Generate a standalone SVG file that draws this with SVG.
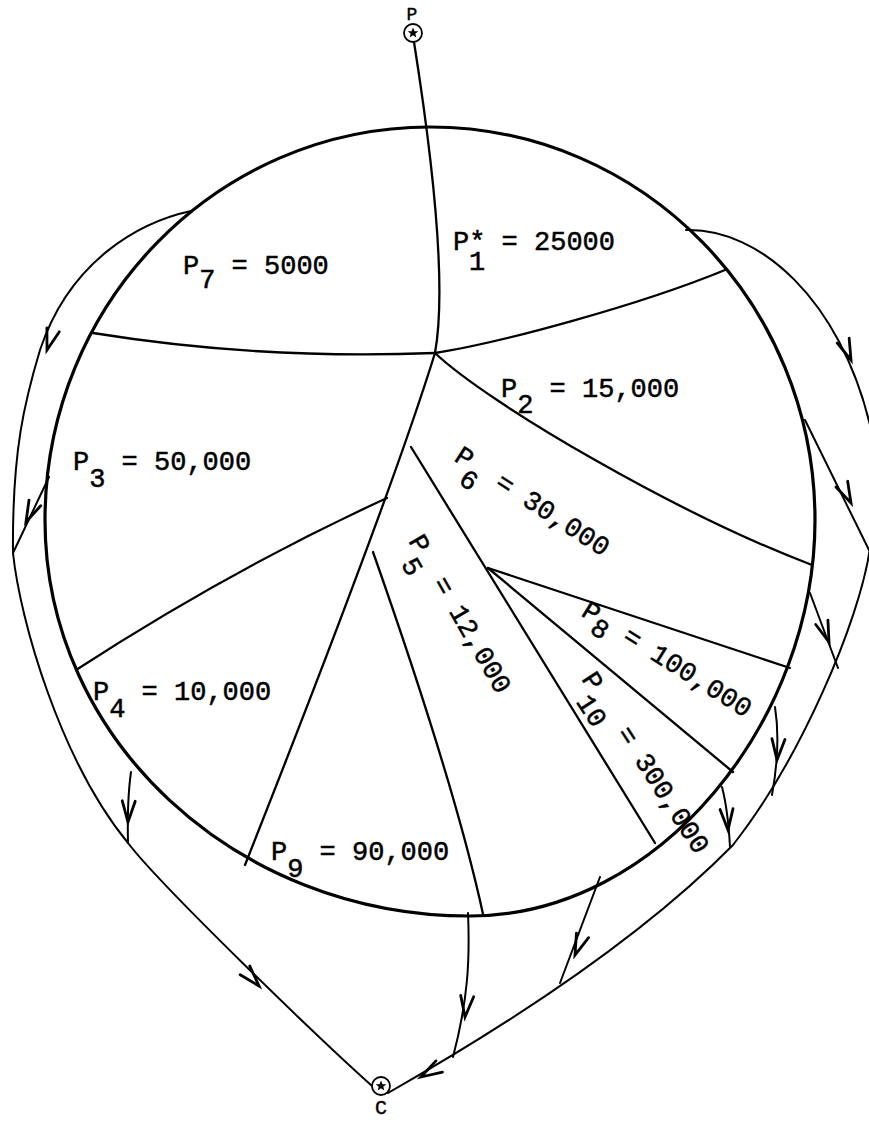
<svg xmlns="http://www.w3.org/2000/svg" width="869" height="1122" viewBox="0 0 869 1122">
<style>
.bd{fill:none;stroke:#000;stroke-width:3.2;stroke-linecap:round;stroke-linejoin:round}
.ln{fill:none;stroke:#000;stroke-width:2.3;stroke-linecap:round}
.cn{fill:none;stroke:#000;stroke-width:2;stroke-linecap:round}
.ah{fill:none;stroke:#000;stroke-width:2.8;stroke-linecap:round;stroke-linejoin:miter}
.lb{font-family:"Liberation Mono","Courier New",monospace;font-size:27px;fill:#000;stroke:#000;stroke-width:0.5;white-space:pre}
.nl{font-family:"Liberation Mono","Courier New",monospace;fill:#000;stroke:#000;stroke-width:0.4;text-anchor:middle}
.nd{fill:#fff;stroke:#000;stroke-width:1.8}
</style>
<defs>
<path id="ah" class="ah" d="M-6.5,-21 L0,0 L6.5,-21"/>
<polygon id="star" points="0,-5.5 1.5,-1.8 5.3,-1.7 2.3,0.7 3.3,4.5 0,2.3 -3.3,4.5 -2.3,0.7 -5.3,-1.7 -1.5,-1.8" fill="#000"/>
</defs>
<rect width="869" height="1122" fill="#fff"/>

<g id="pie">
<path class="bd" d="M430,127 C643,127 815,303 815,520 C815,720 660,916 470,916 C235,916 45,739 45,520 C45,303 217,127 430,127 Z"/>
<path class="ln" d="M435,353 Q260,360 93,333"/>
<path class="ln" d="M435,353 C500,343 640,305 725,270"/>
<path class="ln" d="M435,353 C490,405 680,515 812,565"/>
<path class="ln" d="M435,353 C405,450 330,650 245,865"/>
<path class="ln" d="M76,670 Q230,570 387,498"/>
<path class="ln" d="M411,447 L655,843"/>
<path class="ln" d="M488,568 L790,668"/>
<path class="ln" d="M488,568 L733,772"/>
<path class="ln" d="M373,552 Q455,785 483,914"/>
</g>

<g id="connectors">
<path class="ln" d="M414,42 Q450,270 435,353"/>
<path class="cn" d="M191,211 C140,222 70,260 40,350 C25,400 12,450 13,553 C20,620 60,760 128,843 C160,885 320,1040 381,1094"/>
<path class="cn" d="M49,477 L13,553"/>
<path class="cn" d="M131,772 Q127,800 128,843"/>
<path class="cn" d="M686,230 C760,228 840,300 870,425"/>
<path class="cn" d="M805,420 L869,550"/>
<path class="cn" d="M870,548 C860,620 800,760 733,845 Q618,962 388,1093"/>
<path class="cn" d="M810,593 L838,668"/>
<path class="cn" d="M775,707 Q781,745 772,795"/>
<path class="cn" d="M722,787 Q728,810 730,847"/>
<path class="cn" d="M600,877 L560,983"/>
<path class="cn" d="M468,913 C470,960 468,1000 453,1057"/>
<use href="#ah" transform="translate(47,350) rotate(17)"/>
<use href="#ah" transform="translate(26,522) rotate(25)"/>
<use href="#ah" transform="translate(128,822) rotate(2)"/>
<use href="#ah" transform="translate(259,986) rotate(-42)"/>
<use href="#ah" transform="translate(851,360) rotate(-22)"/>
<use href="#ah" transform="translate(851,503) rotate(-26)"/>
<use href="#ah" transform="translate(829,642) rotate(-20)"/>
<use href="#ah" transform="translate(777,760) rotate(4)"/>
<use href="#ah" transform="translate(728,830) rotate(-4)"/>
<use href="#ah" transform="translate(575,955) rotate(21)"/>
<use href="#ah" transform="translate(465,1017) rotate(6)"/>
<use href="#ah" transform="translate(421,1077) rotate(60)"/>
</g>

<g id="node-P">
<circle class="nd" cx="413" cy="33" r="9"/>
<use href="#star" transform="translate(413,33)"/>
<text class="nl" x="412" y="20" font-size="18">P</text>
</g>
<g id="node-C">
<circle class="nd" cx="381" cy="1086" r="9"/>
<use href="#star" transform="translate(381,1086)"/>
<text class="nl" x="381" y="1114" font-size="20">C</text>
</g>

<g id="region-P1"><text class="lb" x="453" y="250">P*<tspan x="469" dy="20">1</tspan><tspan x="485.4" dy="-20"> = 25000</tspan></text></g>
<g id="region-P7"><text class="lb" x="183" y="274">P<tspan dy="14">7</tspan><tspan dy="-14"> = 5000</tspan></text></g>
<g id="region-P2"><text class="lb" x="501" y="397">P<tspan dy="16">2</tspan><tspan dy="-16"> = 15,000</tspan></text></g>
<g id="region-P3"><text class="lb" x="73" y="470">P<tspan dy="17">3</tspan><tspan dy="-17"> = 50,000</tspan></text></g>
<g id="region-P4"><text class="lb" x="93" y="700">P<tspan dy="17">4</tspan><tspan dy="-17"> = 10,000</tspan></text></g>
<g id="region-P9"><text class="lb" x="271" y="860">P<tspan dy="17">9</tspan><tspan dy="-17"> = 90,000</tspan></text></g>
<g id="region-P6"><text class="lb" transform="translate(453,460) rotate(33)">P<tspan dy="17">6</tspan><tspan dy="-17"> = 30,000</tspan></text></g>
<g id="region-P5"><text class="lb" transform="translate(408,541) rotate(60)">P<tspan dy="18">5</tspan><tspan dy="-18"> = 12,000</tspan></text></g>
<g id="region-P8"><text class="lb" transform="translate(580,615) rotate(32)">P<tspan dy="10">8</tspan><tspan dy="-10"> = 100,000</tspan></text></g>
<g id="region-P10"><text class="lb" transform="translate(581,679) rotate(57)">P<tspan dy="17">10</tspan><tspan dy="-17"> = 300,000</tspan></text></g>
</svg>
